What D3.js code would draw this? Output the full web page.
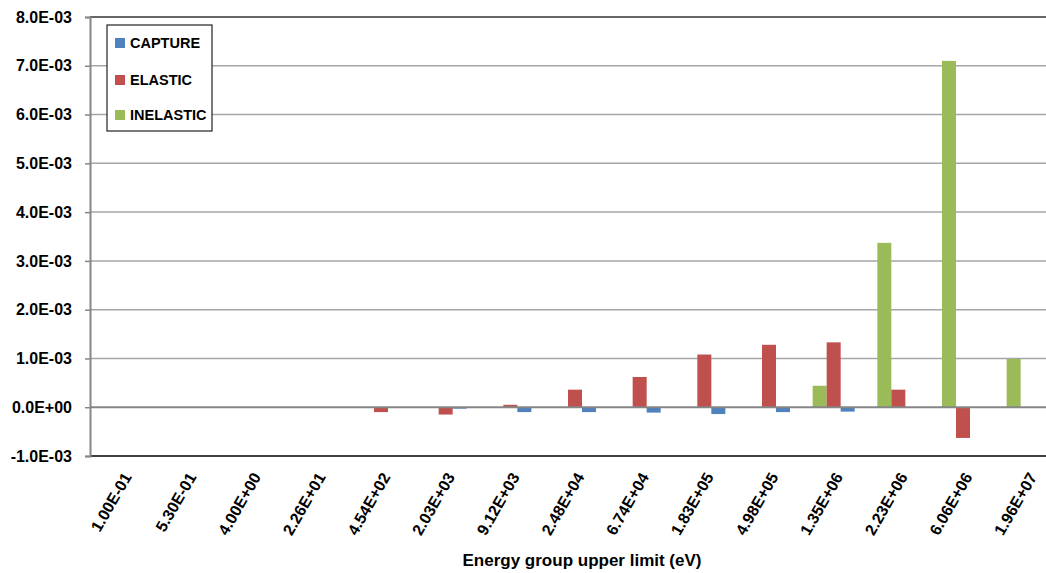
<!DOCTYPE html>
<html><head><meta charset="utf-8">
<script src="https://cdn.jsdelivr.net/npm/d3@7"></script>
<style>html,body{margin:0;padding:0;background:#fff;overflow:hidden}</style>
</head><body>
<svg id="chart" width="1046" height="573"></svg>
<script>
const categories = ["1.00E-01","5.30E-01","4.00E+00","2.26E+01","4.54E+02","2.03E+03","9.12E+03","2.48E+04","6.74E+04","1.83E+05","4.98E+05","1.35E+06","2.23E+06","6.06E+06","1.96E+07"];
const capture   = [0,0,0,0,0,-0.00003,-0.0001,-0.0001,-0.00011,-0.00014,-0.0001,-0.00009,0,0,0];
const elastic   = [0,0,0,0,-0.0001,-0.00015,0.00005,0.00036,0.00062,0.00108,0.00128,0.00133,0.00036,-0.00063,0];
const inelastic = [0,0,0,0,0,0,0,0,0,0,0,0.00044,0.00337,0.0071,0.00099];
const seriesNames = ["CAPTURE","ELASTIC","INELASTIC"];
const seriesColors = ["#4f81bd","#c0504d","#9bbb59"];
const barOrder = ["INELASTIC","ELASTIC","CAPTURE"];
const yTicks = [-0.001,0,0.001,0.002,0.003,0.004,0.005,0.006,0.007,0.008];
const yTickLabels = ["-1.0E-03","0.0E+00","1.0E-03","2.0E-03","3.0E-03","4.0E-03","5.0E-03","6.0E-03","7.0E-03","8.0E-03"];
const xTitle = "Energy group upper limit (eV)";

(function () {
const seriesData = {CAPTURE: capture, ELASTIC: elastic, INELASTIC: inelastic};
const mLeft = 90, mRight = 1060, mTop = 17, mBottom = 456;
const svg = d3.select("#chart");
const font = "'Liberation Sans', Arial, sans-serif";

const x = d3.scaleBand().domain(categories).range([mLeft, mRight]).paddingInner(0.35).paddingOuter(0.175);
const xs = d3.scaleBand().domain(barOrder).range([0, x.bandwidth()]).padding(0);
const y = d3.scaleLinear().domain([-0.001, 0.008]).range([mBottom, mTop]);

// gridlines
svg.append("g").selectAll("line").data(yTicks.filter(t => t !== -0.001 && t !== 0.008 && t !== 0))
  .join("line")
  .attr("x1", mLeft).attr("x2", 1046)
  .attr("y1", d => y(d)).attr("y2", d => y(d))
  .attr("stroke", "#a6a6a6").attr("stroke-width", 1.5);

// bars
const rows = [];
categories.forEach((c, i) => barOrder.forEach(s => rows.push({c, s, v: seriesData[s][i]})));
svg.append("g").selectAll("rect").data(rows.filter(r => r.v !== 0)).join("rect")
  .attr("x", d => x(d.c) + xs(d.s))
  .attr("width", xs.bandwidth())
  .attr("y", d => Math.min(y(d.v), y(0)))
  .attr("height", d => Math.abs(y(d.v) - y(0)))
  .attr("fill", d => seriesColors[seriesNames.indexOf(d.s)]);

// zero line
svg.append("line").attr("x1", mLeft).attr("x2", 1046).attr("y1", y(0)).attr("y2", y(0))
  .attr("stroke", "#868686").attr("stroke-width", 2);

// frame top/bottom
svg.append("line").attr("x1", mLeft).attr("x2", 1046).attr("y1", mTop).attr("y2", mTop)
  .attr("stroke", "#333").attr("stroke-width", 1.5);
svg.append("line").attr("x1", mLeft).attr("x2", 1046).attr("y1", mBottom).attr("y2", mBottom)
  .attr("stroke", "#404040").attr("stroke-width", 2);

// y axis
const yAxis = d3.axisLeft(y).tickValues(yTicks).tickSize(5).tickPadding(13)
  .tickFormat((d, i) => yTickLabels[i]);
const ya = svg.append("g").attr("transform", `translate(${mLeft},0)`).call(yAxis);
ya.select(".domain").attr("stroke", "#868686").attr("stroke-width", 2);
ya.selectAll(".tick line").attr("stroke", "#868686").attr("stroke-width", 1.5);
ya.selectAll(".tick text").attr("font-family", font).attr("font-weight", "bold")
  .attr("font-size", "16px").attr("fill", "#000");

// x axis labels
const xa = svg.append("g").attr("transform", `translate(0,${mBottom})`)
  .call(d3.axisBottom(x).tickSize(0).tickPadding(0));
xa.select(".domain").remove();
xa.selectAll(".tick text")
  .attr("font-family", font).attr("font-weight", "bold").attr("font-size", "16px").attr("fill", "#000")
  .attr("text-anchor", "end")
  .attr("y", 0).attr("dy", "0.35em")
  .attr("transform", "translate(5,18) rotate(-60)");

// x title
svg.append("text").attr("x", 582).attr("y", 566).attr("text-anchor", "middle")
  .attr("font-family", font).attr("font-weight", "bold").attr("font-size", "17px").attr("fill", "#000")
  .text(xTitle);

// legend
const lg = svg.append("g").attr("transform", "translate(107,25)");
lg.append("rect").attr("width", 105).attr("height", 106).attr("fill", "#fff")
  .attr("stroke", "#222").attr("stroke-width", 1.2);
const ly = [18, 55, 90];
seriesNames.forEach((s, i) => {
  lg.append("rect").attr("x", 8).attr("y", ly[i] - 5).attr("width", 10).attr("height", 10).attr("fill", seriesColors[i]);
  lg.append("text").attr("x", 23).attr("y", ly[i]).attr("dy", "0.36em")
    .attr("font-family", font).attr("font-weight", "bold").attr("font-size", "14.5px").attr("fill", "#000")
    .text(s);
});
})();
</script>
</body></html>
